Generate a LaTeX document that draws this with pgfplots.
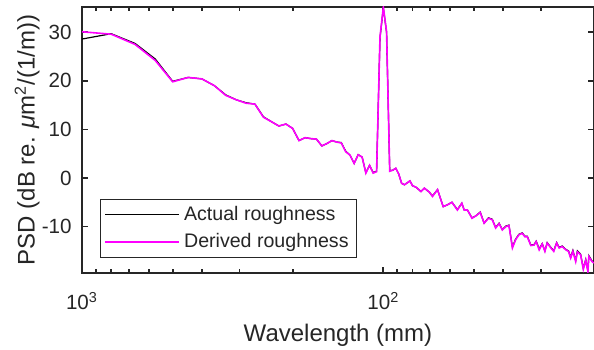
\documentclass[border=0pt]{standalone}
\usepackage{fontspec}
\setmainfont{Liberation Sans}
\usepackage{pgfplots}
\usepackage{pgfplotstable}
\pgfplotsset{compat=1.18}
\definecolor{axgray}{HTML}{262626}
\definecolor{mag}{HTML}{FF00FF}

\pgfplotstableread{
x y
1000 30.1
800 29.6
666.7 27.5
571.4 24.2
500 19.8
444.4 20.7
400 20.4
363.6 19.0
333.3 17.0
307.7 16.1
285.7 15.4
266.7 15.2
250 12.5
235.3 11.6
222.2 10.7
210.5 11.1
200 10.2
190.5 7.7
181.8 8.3
173.9 8.1
166.7 8.0
160 6.6
153.8 7.1
148.1 7.7
142.9 7.4
137.9 7.2
133.3 5.4
129.0 4.7
125 3.0
121.2 4.8
117.6 4.3
114.3 1.0
111.1 2.6
108.1 1.0
105.3 1.3
102.6 29.0
100 35.2
97.56 30.1
95.24 1.4
93.02 1.6
90.91 2.0
88.89 0.8
86.96 -1.1
85.11 -1.4
83.33 -1.0
81.63 -0.6
80 -1.6
77.9 -1.9
75.0 -2.8
73.1 -2.1
70.4 -2.9
68.7 -3.8
66.1 -2.4
63.3 -5.9
61.2 -5.5
59.2 -5.0
56.8 -6.6
54.9 -5.2
53.9 -6.6
52.6 -6.6
50.8 -8.3
49.3 -7.8
47.7 -7.1
46.3 -9.3
44.8 -8.3
43.5 -8.6
42.4 -10.3
41.3 -9.4
40.3 -10.7
39.2 -10.0
38.3 -9.8
37.3 -14.4
36.4 -12.7
35.5 -11.7
34.6 -11.4
33.9 -12.1
33.3 -12.1
32.4 -13.9
31.6 -13.8
31.1 -13.1
30.4 -14.8
29.7 -13.6
29.1 -15.1
28.6 -13.4
27.8 -14.4
27.2 -15.1
26.6 -13.4
26.1 -14.4
25.5 -14.1
24.8 -14.8
24.3 -15.1
23.9 -16.5
23.5 -15.1
23.0 -17.2
22.7 -15.2
22.15 -15.8
21.7 -18.8
21.3 -16.9
20.95 -19.3
20.8 -16.2
20.3 -17.2
20.0 -17.5
}\derived

\pgfplotstableread{
x y
1000 28.6
800 29.7
666.7 27.7
571.4 24.5
500 19.9
444.4 20.7
400 20.4
363.6 19.0
333.3 17.1
307.7 16.1
285.7 15.5
266.7 15.2
250 12.6
235.3 11.6
222.2 10.7
210.5 11.1
200 10.2
190.5 7.7
181.8 8.3
173.9 8.1
166.7 8.0
160 6.6
153.8 7.1
148.1 7.7
142.9 7.4
137.9 7.3
133.3 5.5
129.0 4.7
125 3.0
121.2 4.8
117.6 4.3
114.3 1.1
111.1 2.6
108.1 1.1
105.3 1.4
102.6 28.8
100 35.0
97.56 30.0
95.24 1.5
93.02 1.6
90.91 2.0
88.89 0.8
86.96 -1.1
85.11 -1.4
83.33 -1.0
81.63 -0.6
80 -1.6
77.9 -1.9
75.0 -2.8
73.1 -2.1
70.4 -2.9
68.7 -3.7
66.1 -2.4
63.3 -5.9
61.2 -5.5
59.2 -5.0
56.8 -6.5
54.9 -5.2
53.9 -6.6
52.6 -6.6
50.8 -8.2
49.3 -7.8
47.7 -7.0
46.3 -9.3
44.8 -8.2
43.5 -8.5
42.4 -10.2
41.3 -9.3
40.3 -10.6
39.2 -9.9
38.3 -9.7
37.3 -14.2
36.4 -12.6
35.5 -11.6
34.6 -11.3
33.9 -12.0
33.3 -12.0
32.4 -13.8
31.6 -13.7
31.1 -13.0
30.4 -14.6
29.7 -13.5
29.1 -15.0
28.6 -13.3
27.8 -14.3
27.2 -15.0
26.6 -13.3
26.1 -14.3
25.5 -14.0
24.8 -14.7
24.3 -15.0
23.9 -16.3
23.5 -14.9
23.0 -17.0
22.7 -15.0
22.15 -15.7
21.7 -18.6
21.3 -16.8
20.95 -19.1
20.8 -16.0
20.3 -17.1
20.0 -17.4
}\actual

\begin{document}
\begin{tikzpicture}
\begin{axis}[
  scale only axis,
  width=256pt, height=132.85pt,
  xmode=log, x dir=reverse,
  xmin=20, xmax=1000,
  ymin=-19.5, ymax=35.2,
  xtick={100,1000},
  xticklabels={10\textsuperscript{2},10\textsuperscript{3}},
  minor xtick={20,30,40,50,60,70,80,90,200,300,400,500,600,700,800,900},
  ytick={-10,0,10,20,30},
  tick align=inside, tick pos=both,
  major tick length=3pt, minor tick length=2pt,
  axis line style={axgray, line width=0.9pt},
  every tick/.style={axgray, line width=0.9pt},
  /pgf/number format/assume math mode=true,
  tick label style={font=\fontsize{10.3}{12}\selectfont, text=axgray},
  xticklabel style={anchor=base, yshift=-18.5pt},
  yticklabel style={anchor=east, inner sep=0pt, xshift=-5pt},
  xlabel={Wavelength (mm)},
  ylabel={PSD (dB re. \textit{μ}m\textsuperscript{2}/(1/m))},
  label style={font=\fontsize{12}{14}\selectfont, text=axgray},
  xlabel style={at={(rel axis cs:0.5,0)}, anchor=base, inner sep=0pt, yshift=-34.5pt},
  ylabel style={at={(rel axis cs:0,0.5)}, anchor=south, inner sep=0pt, yshift=21pt},
  legend style={at={(rel axis cs:0.0352,0.0553)}, anchor=south west,
    draw=axgray, line width=0.5pt, fill=white,
    font=\fontsize{9.8}{11}\selectfont, text=axgray,
    inner xsep=2pt, inner ysep=1.5pt, row sep=1pt},
  legend cell align=left,
  legend image code/.code={\draw[#1] (0pt,0pt) -- (37pt,0pt);},
]
\addplot[black, line width=0.6pt] table[x=x,y=y] {\actual};
\addlegendentry{Actual roughness}
\addplot[mag, line width=0.8pt] table[x=x,y=y] {\derived};
\addlegendentry{Derived roughness}
\end{axis}
\pgfresetboundingbox
\path[use as bounding box] ([xshift=-41pt,yshift=-38.15pt]current axis.south west) rectangle ([yshift=3.5pt]current axis.north east);
\end{tikzpicture}
\end{document}
